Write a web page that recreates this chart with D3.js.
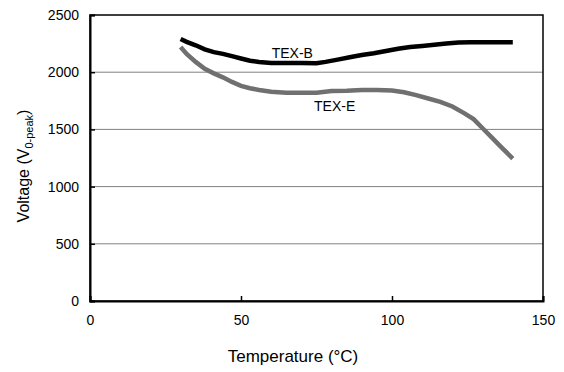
<!DOCTYPE html>
<html>
<head>
<meta charset="utf-8">
<script src="https://cdn.jsdelivr.net/npm/d3@7"></script>
<style>
  body { margin: 0; background: #fff; }
  text { font-family: "Liberation Sans", Arial, sans-serif; fill: #000; }
</style>
</head>
<body>
<div id="chart"></div>
<script>
// data
var tempB = [30, 32, 35, 38, 41, 44, 47, 50, 53, 56, 60, 65, 70, 75, 78, 82, 86, 90, 94, 98, 102, 106, 110, 114, 118, 122, 126, 130, 135, 140];
var voltB = [2290, 2265, 2235, 2200, 2175, 2160, 2140, 2120, 2100, 2090, 2080, 2080, 2080, 2078, 2090, 2110, 2130, 2150, 2165, 2185, 2205, 2220, 2230, 2240, 2250, 2260, 2262, 2262, 2262, 2262];
var tempE = [30, 32, 35, 38, 41, 44, 47, 50, 53, 56, 60, 65, 70, 75, 80, 85, 90, 95, 100, 104, 108, 112, 116, 120, 124, 127, 130, 133, 136, 140];
var voltE = [2220, 2160, 2090, 2030, 1990, 1955, 1915, 1880, 1860, 1845, 1830, 1820, 1820, 1820, 1835, 1838, 1845, 1845, 1840, 1825, 1800, 1770, 1740, 1700, 1640, 1590, 1510, 1430, 1350, 1245];
var xTicks = [0, 50, 100, 150];
var yTicks = [0, 500, 1000, 1500, 2000, 2500];
var seriesNames = ["TEX-B", "TEX-E"];

var svgWidth = 564;
var svgHeight = 372;
var margin = { top: 15, right: 21, bottom: 71, left: 90 };
var width = svgWidth - margin.left - margin.right;
var height = svgHeight - margin.top - margin.bottom;

var svg = d3.select("#chart")
  .append("svg")
  .attr("width", svgWidth)
  .attr("height", svgHeight);

var chartGroup = svg.append("g")
  .attr("transform", `translate(${margin.left}, ${margin.top})`);

var x = d3.scaleLinear().domain([0, 150]).range([0, width]);
var y = d3.scaleLinear().domain([0, 2500]).range([height, 0]);

// gridlines
chartGroup.append("g")
  .selectAll("line")
  .data(yTicks.filter(d => d > 0 && d < 2500))
  .enter()
  .append("line")
  .attr("x1", 0)
  .attr("x2", width)
  .attr("y1", d => y(d))
  .attr("y2", d => y(d))
  .attr("stroke", "#808080")
  .attr("stroke-width", 1);

// frame
chartGroup.append("rect")
  .attr("x", 0).attr("y", 0)
  .attr("width", width).attr("height", height)
  .attr("fill", "none")
  .attr("stroke", "#000")
  .attr("stroke-width", 1.5);

// axes with inward ticks
var bottomAxis = d3.axisBottom(x).tickValues(xTicks).tickSize(-5).tickPadding(14).tickFormat(d3.format("d"));
var leftAxis = d3.axisLeft(y).tickValues(yTicks).tickSize(-5).tickPadding(11).tickFormat(d3.format("d"));

var xg = chartGroup.append("g")
  .attr("transform", `translate(0, ${height})`)
  .call(bottomAxis);
var yg = chartGroup.append("g").call(leftAxis);

[xg, yg].forEach(function(g) {
  g.select(".domain").attr("stroke-width", 2);
  g.selectAll(".tick line").attr("stroke-width", 1.5);
  g.selectAll(".tick text")
    .style("font-family", "'Liberation Sans', Arial, sans-serif")
    .style("font-size", "14px")
    .attr("fill", "#000");
});

// lines
var line = d3.line()
  .x(d => x(d[0]))
  .y(d => y(d[1]));

chartGroup.append("path")
  .datum(d3.zip(tempE, voltE))
  .attr("d", line)
  .attr("fill", "none")
  .attr("stroke", "#707070")
  .attr("stroke-width", 4.5);

chartGroup.append("path")
  .datum(d3.zip(tempB, voltB))
  .attr("d", line)
  .attr("fill", "none")
  .attr("stroke", "#000")
  .attr("stroke-width", 4.5);

// series labels
chartGroup.append("text")
  .attr("x", x(67))
  .attr("y", y(2120))
  .attr("text-anchor", "middle")
  .style("font-size", "14px")
  .text(seriesNames[0]);

chartGroup.append("text")
  .attr("x", x(81))
  .attr("y", y(1660))
  .attr("text-anchor", "middle")
  .style("font-size", "14px")
  .text(seriesNames[1]);

// axis titles
svg.append("text")
  .attr("x", 293)
  .attr("y", 362)
  .attr("text-anchor", "middle")
  .style("font-size", "17px")
  .text("Temperature (\u00B0C)");

var yTitle = svg.append("text")
  .attr("transform", `translate(29, ${margin.top + height / 2 + 8}) rotate(-90)`)
  .attr("text-anchor", "middle")
  .style("font-size", "16px");
yTitle.append("tspan").text("Voltage (V");
yTitle.append("tspan").attr("dy", 4).style("font-size", "11px").text("0-peak");
yTitle.append("tspan").attr("dy", -4).text(")");
</script>
</body>
</html>
